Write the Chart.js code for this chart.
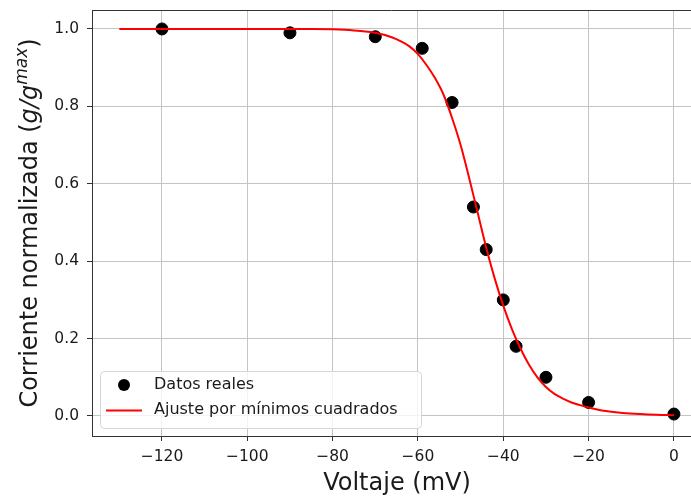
<!DOCTYPE html>
<html lang="es">
  <head>
    <meta charset="UTF-8" />
    <title>Corriente normalizada vs voltaje</title>
    <style>
      html, body { margin: 0; padding: 0; background: #fff; overflow: hidden; }
      canvas { display: block; }
    </style>
  </head>
  <body>
    <canvas id="chart" width="691" height="498"></canvas>

    <script src="https://cdn.jsdelivr.net/npm/chart.js"></script>
    <script>
      // measured data
      const voltage = [-120, -90, -70, -59, -52, -47, -44, -40, -37, -30, -20, 0];
      const current = [1.0, 0.99, 0.98, 0.95, 0.81, 0.54, 0.43, 0.30, 0.18, 0.10, 0.035, 0.005];

      // least squares fit
      const fitVoltage = [-130, -120, -110, -100, -90, -85, -80, -75, -70, -66, -64, -62, -60, -58, -56, -54, -52, -50, -48, -46, -44, -42, -40, -38, -36, -34, -32, -30, -28, -26, -24, -22, -20, -18, -16, -12, -8, -4, 0];
      const fitCurrent = [1.0, 1.0, 1.0, 1.0, 1.0, 1.0, 0.999, 0.996, 0.99, 0.978, 0.968, 0.955, 0.935, 0.907, 0.873, 0.83, 0.77, 0.70, 0.615, 0.525, 0.435, 0.355, 0.285, 0.225, 0.175, 0.133, 0.10, 0.075, 0.057, 0.045, 0.035, 0.028, 0.022, 0.017, 0.013, 0.008, 0.005, 0.003, 0.002];

      const xTicks = [-120, -100, -80, -60, -40, -20, 0];
      const yTicks = [0.0, 0.2, 0.4, 0.6, 0.8, 1.0];

      const xTitle = "Voltaje (mV)";
      const legendLabels = ["Datos reales", "Ajuste por mínimos cuadrados"];

      const FONT = "'DejaVu Sans', sans-serif";
      const INK = "#1a1a1a";

      // titles, top spine and legend drawn by hand (matplotlib look)
      const decorations = {
        id: "decorations",
        afterDraw(chart) {
          const ctx = chart.ctx;
          const a = chart.chartArea;
          ctx.save();

          // top spine
          ctx.strokeStyle = "#333";
          ctx.lineWidth = 1;
          ctx.beginPath();
          ctx.moveTo(a.left, a.top + 0.5);
          ctx.lineTo(a.right, a.top + 0.5);
          ctx.stroke();

          // x title
          ctx.fillStyle = INK;
          ctx.font = "24px " + FONT;
          ctx.textAlign = "center";
          ctx.textBaseline = "alphabetic";
          ctx.fillText(xTitle, 397, 490);

          // y title with italic g/g and superscript max
          const parts = [
            { t: "Corriente normalizada (", f: "24px " + FONT, dy: 0 },
            { t: "g/g", f: "italic 24px " + FONT, dy: 0 },
            { t: "max", f: "italic 17px " + FONT, dy: -10 },
            { t: ")", f: "24px " + FONT, dy: 0 },
          ];
          let total = 0;
          parts.forEach((p) => {
            ctx.font = p.f;
            p.w = ctx.measureText(p.t).width;
            total += p.w;
          });
          ctx.translate(37, 223);
          ctx.rotate(-Math.PI / 2);
          ctx.textAlign = "left";
          let x = -total / 2;
          parts.forEach((p) => {
            ctx.font = p.f;
            ctx.fillText(p.t, x, p.dy);
            x += p.w;
          });
          ctx.setTransform(1, 0, 0, 1, 0, 0);

          // legend
          const bx = 100.5, by = 371.5, bw = 321, bh = 57, r = 4;
          ctx.beginPath();
          ctx.moveTo(bx + r, by);
          ctx.arcTo(bx + bw, by, bx + bw, by + bh, r);
          ctx.arcTo(bx + bw, by + bh, bx, by + bh, r);
          ctx.arcTo(bx, by + bh, bx, by, r);
          ctx.arcTo(bx, by, bx + bw, by, r);
          ctx.closePath();
          ctx.fillStyle = "rgba(255,255,255,0.8)";
          ctx.fill();
          ctx.strokeStyle = "#d6d6d6";
          ctx.stroke();

          ctx.fillStyle = "#000";
          ctx.beginPath();
          ctx.arc(124, 385, 6, 0, Math.PI * 2);
          ctx.fill();

          ctx.strokeStyle = "#ff0000";
          ctx.lineWidth = 2;
          ctx.beginPath();
          ctx.moveTo(106, 410.5);
          ctx.lineTo(142, 410.5);
          ctx.stroke();

          ctx.fillStyle = INK;
          ctx.font = "16px " + FONT;
          ctx.textBaseline = "middle";
          ctx.fillText(legendLabels[0], 154, 385);
          ctx.fillText(legendLabels[1], 154, 410);

          ctx.restore();
        },
      };

      new Chart(document.getElementById("chart"), {
        type: "scatter",
        data: {
          datasets: [
            {
              label: legendLabels[0],
              data: voltage.map((v, i) => ({ x: v, y: current[i] })),
              backgroundColor: "#000",
              borderColor: "#000",
              pointRadius: 6,
              pointHoverRadius: 6,
              order: 2,
            },
            {
              label: legendLabels[1],
              type: "line",
              data: fitVoltage.map((v, i) => ({ x: v, y: fitCurrent[i] })),
              borderColor: "#ff0000",
              borderWidth: 2,
              pointRadius: 0,
              fill: false,
              cubicInterpolationMode: "monotone",
              order: 1,
            },
          ],
        },
        options: {
          responsive: false,
          animation: false,
          devicePixelRatio: 1,
          layout: { autoPadding: false, padding: { top: 10, left: 0, right: 0, bottom: 0 } },
          plugins: {
            legend: { display: false },
            tooltip: { enabled: false },
          },
          scales: {
            x: {
              type: "linear",
              min: -136.4,
              max: 4.0,
              afterFit: (s) => { s.height = 62; s.paddingLeft = 0; s.paddingRight = 0; },
              afterBuildTicks: (s) => { s.ticks = xTicks.map((v) => ({ value: v })); },
              ticks: {
                color: INK,
                font: { family: FONT, size: 15.5 },
                padding: 7,
                maxRotation: 0,
                callback: (v) => String(v).replace("-", "\u2212"),
              },
              grid: { color: "#c4c4c4", lineWidth: 1, tickColor: "#333", tickLength: 5 },
              border: { color: "#333", width: 1 },
            },
            y: {
              type: "linear",
              min: -0.0517,
              max: 1.049,
              afterFit: (s) => { s.width = 92; s.paddingTop = 0; s.paddingBottom = 0; },
              afterBuildTicks: (s) => { s.ticks = yTicks.map((v) => ({ value: v })); },
              ticks: {
                color: INK,
                font: { family: FONT, size: 15.5 },
                padding: 8,
                callback: (v) => v.toFixed(1),
              },
              grid: { color: "#c4c4c4", lineWidth: 1, tickColor: "#333", tickLength: 5 },
              border: { color: "#333", width: 1 },
            },
          },
        },
        plugins: [decorations],
      });
    </script>
  </body>
</html>
